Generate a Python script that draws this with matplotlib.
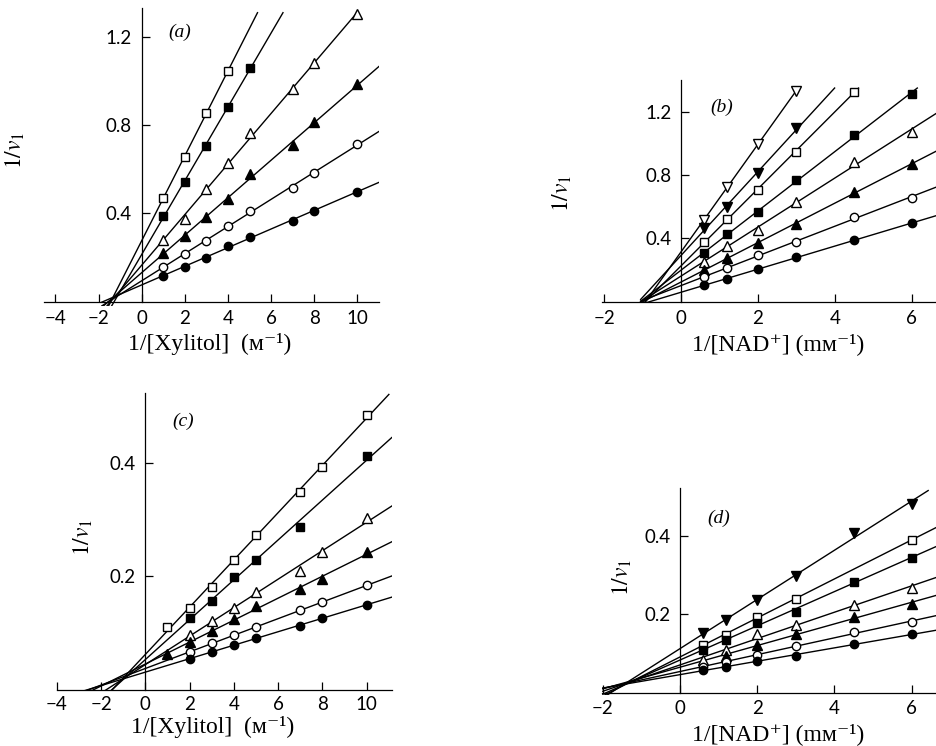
import numpy as np
import matplotlib
matplotlib.use("Agg")
import matplotlib.pyplot as plt

# (a) 1/v against 1/[Xylitol] at several fixed NAD+ levels
a_sq_open_x = [1, 2, 3, 4]
a_sq_open_y = [0.471, 0.657, 0.857, 1.046]
a_sq_fill_x = [1, 2, 3, 4, 5]
a_sq_fill_y = [0.390, 0.544, 0.707, 0.881, 1.058]
a_x = [1, 2, 3, 4, 5, 7, 8, 10]
a_tri_open_y = [0.281, 0.377, 0.509, 0.627, 0.766, 0.963, 1.083, 1.304]
a_tri_fill_y = [0.222, 0.296, 0.383, 0.465, 0.577, 0.710, 0.813, 0.985]
a_circ_open_y = [0.159, 0.214, 0.274, 0.345, 0.413, 0.517, 0.582, 0.715]
a_circ_fill_y = [0.115, 0.159, 0.200, 0.252, 0.295, 0.367, 0.411, 0.499]

# (b) 1/v against 1/[NAD+] at several fixed xylitol levels
b_x = [0.6, 1.2, 2, 3, 4.5, 6]
b_vee_open_y = [0.516, 0.726, 0.994, 1.333]
b_vee_fill_y = [0.463, 0.600, 0.811, 1.095]
b_sq_open_y = [0.375, 0.522, 0.709, 0.947, 1.327]
b_sq_fill_y = [0.306, 0.426, 0.569, 0.768, 1.053, 1.312]
b_tri_open_y = [0.253, 0.354, 0.453, 0.632, 0.884, 1.074]
b_tri_fill_y = [0.200, 0.278, 0.369, 0.491, 0.695, 0.868]
b_circ_open_y = [0.158, 0.211, 0.295, 0.375, 0.537, 0.657]
b_circ_fill_y = [0.105, 0.143, 0.207, 0.280, 0.390, 0.495]

# (c) same as (a), second set
c_sq_open_x = [1, 2, 3, 4, 5, 7, 8, 10]
c_sq_open_y = [0.111, 0.144, 0.182, 0.229, 0.272, 0.349, 0.393, 0.484]
c_sq_fill_x = [2, 3, 4, 5, 7, 10]
c_sq_fill_y = [0.126, 0.157, 0.199, 0.229, 0.287, 0.411]
c_x = [2, 3, 4, 5, 7, 8, 10]
c_tri_open_y = [0.096, 0.122, 0.144, 0.173, 0.210, 0.243, 0.302]
c_tri_fill_x = [1, 2, 3, 4, 5, 7, 8, 10]
c_tri_fill_y = [0.063, 0.085, 0.103, 0.124, 0.148, 0.178, 0.195, 0.242]
c_circ_open_y = [0.067, 0.083, 0.096, 0.110, 0.140, 0.154, 0.185]
c_circ_fill_y = [0.055, 0.067, 0.079, 0.091, 0.113, 0.127, 0.150]

# (d) same as (b), second set
d_x = [0.6, 1.2, 2, 3, 4.5, 6]
d_vee_fill_y = [0.151, 0.185, 0.236, 0.298, 0.406, 0.481]
d_sq_open_x = [0.6, 1.2, 2, 3, 6]
d_sq_open_y = [0.122, 0.147, 0.194, 0.239, 0.389]
d_sq_fill_y = [0.109, 0.134, 0.178, 0.205, 0.283, 0.344]
d_tri_open_y = [0.083, 0.109, 0.150, 0.172, 0.223, 0.268]
d_tri_fill_x = [1.2, 2, 3, 4.5, 6]
d_tri_fill_y = [0.094, 0.122, 0.149, 0.194, 0.226]
d_circ_open_y = [0.066, 0.079, 0.096, 0.120, 0.155, 0.179]
d_circ_fill_y = [0.058, 0.066, 0.081, 0.093, 0.124, 0.149]

plt.rcParams["font.family"] = ["Lato", "DejaVu Sans"]
plt.rcParams["mathtext.fontset"] = "stix"
SERIF = ["Liberation Serif", "DejaVu Serif", "DejaVu Sans"]

MARKERS = {
    "sq_open": ("s", "white", 6),
    "sq_fill": ("s", "black", 6),
    "tri_open": ("^", "white", 6.5),
    "tri_fill": ("^", "black", 6.5),
    "vee_open": ("v", "white", 6.5),
    "vee_fill": ("v", "black", 6.5),
    "circ_open": ("o", "white", 6),
    "circ_fill": ("o", "black", 6),
}


def draw_panel(ax, series, xlim, ylim, xticks, yticks, line_x0, line_top,
               letter, letter_xy, xpad=6):
    for kind, xs, ys in series:
        xs = np.asarray(xs, dtype=float)
        ys = np.asarray(ys, dtype=float)
        m, b = np.polyfit(xs, ys, 1)
        x1 = min(xlim[1], (line_top - b) / m)
        ax.plot([line_x0, x1], [m * line_x0 + b, m * x1 + b],
                color="black", lw=1.0, zorder=2)
        mk, face, size = MARKERS[kind]
        ax.plot(xs, ys, linestyle="none", marker=mk, ms=size, mfc=face,
                mec="black", mew=1.0, zorder=3, clip_on=False)

    ax.set_xlim(xlim)
    ax.set_ylim(ylim)
    ax.spines["left"].set_position(("data", 0))
    ax.spines["bottom"].set_position(("data", 0))
    ax.spines["left"].set_bounds(0, ylim[1])
    ax.spines["top"].set_visible(False)
    ax.spines["right"].set_visible(False)
    for sp in ("left", "bottom"):
        ax.spines[sp].set_linewidth(0.9)

    ax.set_xticks(xticks)
    ax.set_xticklabels([f"{t:g}".replace("-", "\u2212") for t in xticks])
    ax.set_yticks(yticks)
    ax.set_yticklabels([f"{t:.1f}" for t in yticks])
    ax.tick_params(direction="in", length=6, width=0.9, labelsize=13.5)
    ax.tick_params(axis="x", pad=xpad)
    ax.tick_params(axis="y", pad=7)

    ax.text(letter_xy[0], letter_xy[1], letter, family=SERIF, style="italic",
            fontsize=14, ha="center", va="center")


fig = plt.figure(figsize=(9.37, 7.46), dpi=100)

ax_a = fig.add_axes([0.0470, 0.5897, 0.3574, 0.3992])
draw_panel(ax_a,
           [("sq_open", a_sq_open_x, a_sq_open_y),
            ("sq_fill", a_sq_fill_x, a_sq_fill_y),
            ("tri_open", a_x, a_tri_open_y),
            ("tri_fill", a_x, a_tri_fill_y),
            ("circ_open", a_x, a_circ_open_y),
            ("circ_fill", a_x, a_circ_fill_y)],
           xlim=(-4.53, 11), ylim=(-0.02, 1.33),
           xticks=[-4, -2, 0, 2, 4, 6, 8, 10], yticks=[0.4, 0.8, 1.2],
           line_x0=-1.85, line_top=1.31, letter="(a)", letter_xy=(1.78, 1.22))

ax_b = fig.add_axes([0.6423, 0.5934, 0.3577, 0.2992])
draw_panel(ax_b,
           [("vee_open", b_x[:4], b_vee_open_y),
            ("vee_fill", b_x[:4], b_vee_fill_y),
            ("sq_open", b_x[:5], b_sq_open_y),
            ("sq_fill", b_x, b_sq_fill_y),
            ("tri_open", b_x, b_tri_open_y),
            ("tri_fill", b_x, b_tri_fill_y),
            ("circ_open", b_x, b_circ_open_y),
            ("circ_fill", b_x, b_circ_fill_y)],
           xlim=(-2.06, 6.66), ylim=(-0.01, 1.40),
           xticks=[-2, 0, 2, 4, 6], yticks=[0.4, 0.8, 1.2],
           line_x0=-1.05, line_top=1.35, letter="(b)", letter_xy=(1.07, 1.23))

ax_c = fig.add_axes([0.0606, 0.0751, 0.3575, 0.3977])
draw_panel(ax_c,
           [("sq_open", c_sq_open_x, c_sq_open_y),
            ("sq_fill", c_sq_fill_x, c_sq_fill_y),
            ("tri_open", c_x, c_tri_open_y),
            ("tri_fill", c_tri_fill_x, c_tri_fill_y),
            ("circ_open", c_x, c_circ_open_y),
            ("circ_fill", c_x, c_circ_fill_y)],
           xlim=(-3.98, 11.13), ylim=(0, 0.522),
           xticks=[-4, -2, 0, 2, 4, 6, 8, 10], yticks=[0.2, 0.4],
           line_x0=-2.8, line_top=0.52, letter="(c)", letter_xy=(1.71, 0.472),
           xpad=4)

ax_d = fig.add_axes([0.6425, 0.0688, 0.3575, 0.2768])
draw_panel(ax_d,
           [("vee_fill", d_x, d_vee_fill_y),
            ("sq_open", d_sq_open_x, d_sq_open_y),
            ("sq_fill", d_x, d_sq_fill_y),
            ("tri_open", d_x, d_tri_open_y),
            ("tri_fill", d_tri_fill_x, d_tri_fill_y),
            ("circ_open", d_x, d_circ_open_y),
            ("circ_fill", d_x, d_circ_fill_y)],
           xlim=(-2.02, 6.66), ylim=(-0.005, 0.521),
           xticks=[-2, 0, 2, 4, 6], yticks=[0.2, 0.4],
           line_x0=-2.0, line_top=0.515, letter="(d)", letter_xy=(1.0, 0.445),
           xpad=5)

# axis titles, placed in figure coordinates
W, H = 937, 746
xlab = "1/[Xylitol]  (\u1d0d\u207b\u00b9)"
nlab = "1/[NAD\u207a] (m\u1d0d\u207b\u00b9)"
ylab = r"$1/v_1$"
for x, y, s in [(210, 344, xlab), (778, 344, nlab), (213, 727, xlab), (778, 734, nlab)]:
    fig.text(x / W, 1 - y / H, s, family=SERIF, fontsize=17, ha="center", va="center")
for x, y in [(15, 150), (562, 193), (83, 537), (622, 577)]:
    fig.text(x / W, 1 - y / H, ylab, fontsize=17, rotation=90, ha="center", va="center")

fig.savefig("out.png", dpi=100)
